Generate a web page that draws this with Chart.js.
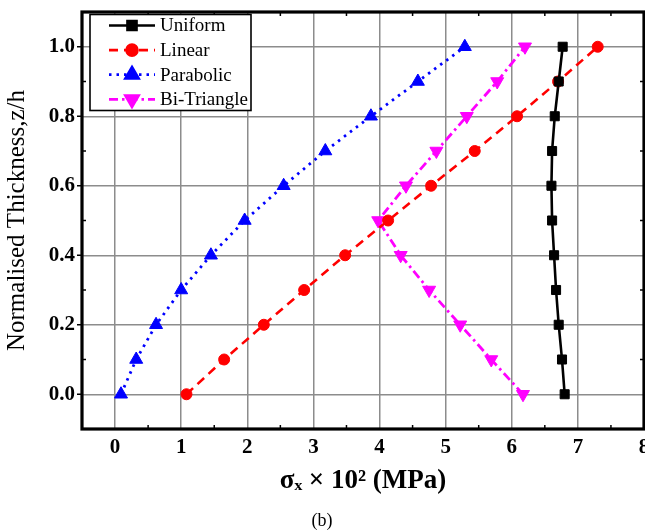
<!DOCTYPE html>
<html>
<head>
<meta charset="utf-8">
<script src="https://cdn.jsdelivr.net/npm/chart.js@4/dist/chart.umd.min.js"></script>
<style>
  html, body { margin: 0; padding: 0; background: #fff; }
  canvas { display: block; }
</style>
</head>
<body>
<canvas id="c" width="645" height="530"></canvas>
<script>
// ---- data ----
const yLevels    = [0.0, 0.1, 0.2, 0.3, 0.4, 0.5, 0.6, 0.7, 0.8, 0.9, 1.0];
const uniform    = [6.80, 6.76, 6.71, 6.67, 6.64, 6.61, 6.60, 6.61, 6.65, 6.71, 6.77];
const linear     = [1.08, 1.65, 2.25, 2.86, 3.48, 4.13, 4.78, 5.44, 6.08, 6.70, 7.30];
const parabolic  = [0.09, 0.32, 0.62, 1.00, 1.45, 1.96, 2.55, 3.18, 3.87, 4.58, 5.29];
const biTriangle = [6.17, 5.69, 5.22, 4.75, 4.32, 3.98, 4.40, 4.86, 5.32, 5.78, 6.20];

const seriesNames = ['Uniform', 'Linear', 'Parabolic', 'Bi-Triangle'];
const xTickValues = [0, 1, 2, 3, 4, 5, 6, 7, 8];
const yTickValues = [0.0, 0.2, 0.4, 0.6, 0.8, 1.0];
const xMinorValues = [-0.5, 0.5, 1.5, 2.5, 3.5, 4.5, 5.5, 6.5, 7.5];
const yMinorValues = [-0.1, 0.1, 0.3, 0.5, 0.7, 0.9, 1.1];
const xTitle = 'σₓ × 10² (MPa)';
const yTitle = 'Normalised Thickness,z/h';
const captionText = '(b)';

const SERIF = '"Liberation Serif", "Times New Roman", serif';

function pts(xs) { return xs.map((v, i) => ({ x: v, y: yLevels[i] })); }

const datasets = [
  { label: seriesNames[0], data: pts(uniform), borderColor: '#000000', backgroundColor: '#000000',
    borderWidth: 2.6, borderDash: [], pointStyle: 'rect', pointRadius: 6.4, pointRotation: 0 },
  { label: seriesNames[1], data: pts(linear), borderColor: '#ff0000', backgroundColor: '#ff0000',
    borderWidth: 2.6, borderDash: [9, 6], pointStyle: 'circle', pointRadius: 5.5, pointRotation: 0 },
  { label: seriesNames[2], data: pts(parabolic), borderColor: '#0000ff', backgroundColor: '#0000ff',
    borderWidth: 2.8, borderDash: [2.5, 5], pointStyle: 'triangle', pointRadius: 7.5, pointRotation: 0 },
  { label: seriesNames[3], data: pts(biTriangle), borderColor: '#ff00ff', backgroundColor: '#ff00ff',
    borderWidth: 2.8, borderDash: [9, 4, 2.5, 4], pointStyle: 'triangle', pointRadius: 7.5, pointRotation: 180 }
].map(d => Object.assign(d, {
  showLine: true, fill: false, tension: 0, pointBorderWidth: 1,
  pointBackgroundColor: d.borderColor, pointBorderColor: d.borderColor
}));

const zeroPad = function () { return { left: 0, top: 0, right: 0, bottom: 0 }; };

const framePlugin = {
  id: 'frameAndLegend',
  afterDatasetsDraw(chart) {
    const { ctx, chartArea: a, scales: { x, y } } = chart;
    ctx.save();
    const line = (x1, y1, x2, y2) => { ctx.beginPath(); ctx.moveTo(x1, y1); ctx.lineTo(x2, y2); ctx.stroke(); };
    ctx.strokeStyle = '#000';
    ctx.lineWidth = 1.5;
    xMinorValues.forEach(v => {
      const px = x.getPixelForValue(v);
      line(px, a.bottom, px, a.bottom - 4);
      line(px, a.top, px, a.top + 4);
    });
    yMinorValues.forEach(v => {
      const py = y.getPixelForValue(v);
      line(a.left, py, a.left + 4, py);
      line(a.right, py, a.right - 4, py);
    });
    yTickValues.forEach(v => {
      const py = y.getPixelForValue(v);
      line(a.left - 5, py, a.left, py);
    });
    ctx.lineWidth = 3.2;
    ctx.strokeRect(a.left, a.top, a.right - a.left, a.bottom - a.top);

    // legend box inside the plot area
    const bx = a.left + 8, by = a.top + 2.5, bw = 161, bh = 96;
    ctx.fillStyle = '#fff';
    ctx.fillRect(bx, by, bw, bh);
    ctx.lineWidth = 1.6;
    ctx.strokeRect(bx, by, bw, bh);
    const rowH = 24.6;
    chart.data.datasets.forEach((ds, i) => {
      const cy = by + 11 + i * rowH;
      const x1 = bx + 19, x2 = bx + 65, cx = (x1 + x2) / 2;
      ctx.strokeStyle = ds.borderColor;
      ctx.fillStyle = ds.borderColor;
      ctx.lineWidth = ds.borderWidth;
      ctx.setLineDash(ds.borderDash || []);
      line(x1, cy, x2, cy);
      ctx.setLineDash([]);
      Chart.helpers.drawPoint(ctx, {
        pointStyle: ds.pointStyle, rotation: ds.pointRotation, radius: ds.pointRadius, borderWidth: 1
      }, cx, cy);
      ctx.fillStyle = '#000';
      ctx.font = '19px ' + SERIF;
      ctx.textBaseline = 'middle';
      ctx.textAlign = 'left';
      ctx.fillText(ds.label, bx + 70, cy + 1);
    });
    ctx.restore();
  }
};

new Chart(document.getElementById('c'), {
  type: 'scatter',
  data: { datasets },
  plugins: [framePlugin],
  options: {
    responsive: false,
    animation: false,
    layout: { autoPadding: false, padding: { top: 12, right: 1, bottom: 0, left: 0 } },
    plugins: {
      legend: { display: false },
      tooltip: { enabled: false },
      title: {
        display: true, position: 'bottom', text: captionText, color: '#000',
        font: { family: SERIF, size: 18, weight: 'normal', lineHeight: 1.0 },
        padding: { top: 0, bottom: 0 }
      }
    },
    scales: {
      x: {
        type: 'linear', position: 'bottom', min: -0.5, max: 8,
        afterBuildTicks: s => { s.ticks = xTickValues.map(v => ({ value: v })); },
        afterFit: s => { s.height = 83; s.paddingLeft = 0; s.paddingRight = 0; s.getPadding = zeroPad; },
        grid: { color: '#8c8c8c', lineWidth: 1.5, drawTicks: false },
        border: { display: false },
        ticks: {
          color: '#000', padding: 6, maxRotation: 0, autoSkip: false,
          font: { family: SERIF, size: 21, weight: 'bold' },
          callback: v => String(v)
        },
        title: {
          display: true, text: xTitle, color: '#000',
          font: { family: SERIF, size: 27, weight: 'bold' },
          padding: { top: 0, bottom: 15 }
        }
      },
      y: {
        type: 'linear', position: 'left', min: -0.1, max: 1.1,
        afterBuildTicks: s => { s.ticks = yTickValues.map(v => ({ value: v })); },
        afterFit: s => { s.width = 82; s.paddingTop = 0; s.paddingBottom = 0; s.getPadding = zeroPad; },
        grid: { color: '#8c8c8c', lineWidth: 1.5, drawTicks: false },
        border: { display: false },
        ticks: {
          color: '#000', padding: 7, autoSkip: false,
          font: { family: SERIF, size: 21, weight: 'bold' },
          callback: v => Number(v).toFixed(1)
        },
        title: {
          display: true, text: yTitle, color: '#000',
          font: { family: SERIF, size: 25, weight: 'normal' },
          padding: { top: 2, bottom: 0 }
        }
      }
    }
  }
});
</script>
</body>
</html>
